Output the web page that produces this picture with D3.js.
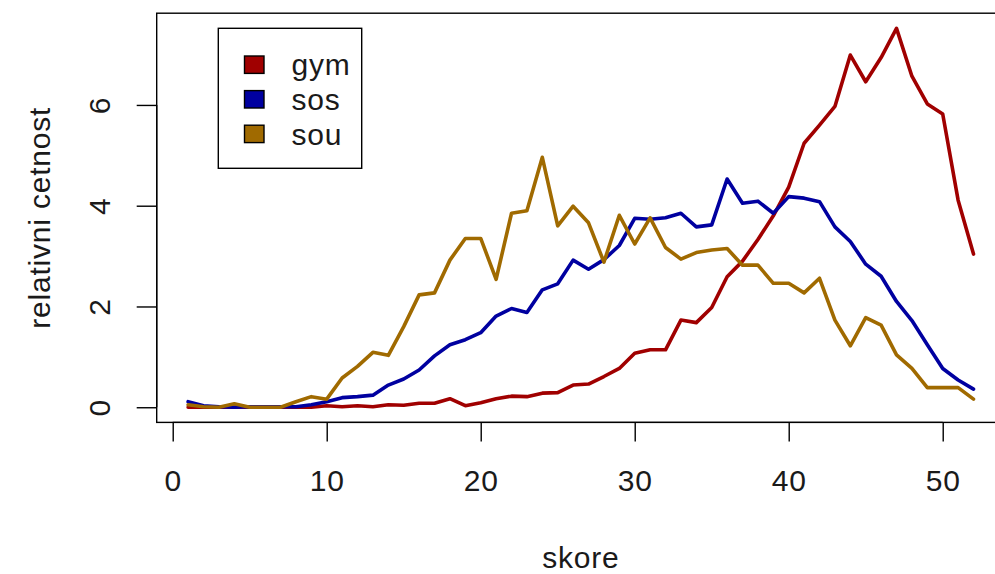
<!DOCTYPE html>
<html>
<head>
<meta charset="utf-8">
<script src="https://cdn.jsdelivr.net/npm/d3@7"></script>
<style>
  body { margin: 0; background: #fff; }
  svg { display: block; font-family: "Liberation Sans", Arial, sans-serif; }
  text { letter-spacing: 0.8px; }
</style>
</head>
<body>
<svg id="chart"></svg>
<script>
// skore 1..52
const skore = d3.range(1, 53);
const gym = [0, 0, 0, 0, 0, 0, 0, 0, 0, 0.03, 0.01, 0.03, 0.01, 0.05, 0.04, 0.08, 0.08, 0.17, 0.03, 0.09,
  0.17, 0.22, 0.21, 0.28, 0.29, 0.44, 0.46, 0.61, 0.77, 1.07, 1.14, 1.14, 1.73, 1.68, 1.98, 2.59, 2.9, 3.33,
  3.8, 4.37, 5.24, 5.6, 5.97, 6.99, 6.46, 6.94, 7.52, 6.57, 6.02, 5.82, 4.11, 3.04];
const sos = [0.11, 0.03, 0.01, 0, 0.01, 0.01, 0.01, 0.01, 0.05, 0.11, 0.19, 0.21, 0.24, 0.44, 0.56, 0.74, 1.02,
  1.24, 1.34, 1.48, 1.81, 1.96, 1.88, 2.33, 2.45, 2.92, 2.74, 2.93, 3.21, 3.75, 3.73, 3.76, 3.85, 3.58, 3.62,
  4.53, 4.05, 4.09, 3.85, 4.18, 4.15, 4.08, 3.58, 3.29, 2.84, 2.6, 2.1, 1.72, 1.24, 0.77, 0.54, 0.36];
const sou = [0.05, 0.01, 0, 0.07, 0, 0, 0, 0.11, 0.21, 0.16, 0.58, 0.81, 1.09, 1.03, 1.6, 2.23, 2.27, 2.92,
  3.35, 3.35, 2.54, 3.85, 3.9, 4.96, 3.6, 3.99, 3.66, 2.88, 3.81, 3.24, 3.76, 3.17, 2.94, 3.07, 3.12, 3.15,
  2.82, 2.82, 2.46, 2.46, 2.27, 2.56, 1.73, 1.22, 1.78, 1.63, 1.04, 0.77, 0.39, 0.39, 0.39, 0.16];
const seriesNames = ["gym", "sos", "sou"];
const seriesColors = ["#a00000", "#0000a0", "#a06a00"];
const xTicks = [0, 10, 20, 30, 40, 50];
const yTicks = [0, 2, 4, 6];

const width = 995;
const height = 574;
const fontSize = 30;

const svg = d3.select("#chart")
    .attr("width", width)
    .attr("height", height)
    .attr("viewBox", [0, 0, width, height]);

// R style: limits padded by 4%
const xmin = 1, xmax = 52, ymax = d3.max([gym, sos, sou].flat());
const xpad = (xmax - xmin) * 0.04, ypad = ymax * 0.04;
const x = d3.scaleLinear()
    .domain([xmin - xpad, xmax + xpad])
    .range([156.7, 156.7 + (xmax - xmin + 2 * xpad) * 15.4]);
const y = d3.scaleLinear()
    .domain([-ypad, ymax + ypad])
    .range([422.4, 13.2]);

const [bx0, bx1] = x.range();
const [by1, by0] = y.range();

// series lines
const line = d3.line()
    .x((d, i) => x(skore[i]))
    .y(d => y(d));

const data = [gym, sos, sou];
// draw in order gym, sos, sou (sou on top)
svg.append("g")
  .selectAll("path")
  .data(data)
  .join("path")
    .attr("fill", "none")
    .attr("stroke", (d, i) => seriesColors[i])
    .attr("stroke-width", 3.6)
    .attr("stroke-linejoin", "round")
    .attr("stroke-linecap", "round")
    .attr("d", line);

// box
svg.append("rect")
    .attr("x", bx0)
    .attr("y", by0)
    .attr("width", bx1 - bx0)
    .attr("height", by1 - by0)
    .attr("fill", "none")
    .attr("stroke", "#000")
    .attr("stroke-width", 1.4);

// x axis
svg.append("g")
    .attr("transform", `translate(0,${by1})`)
    .call(d3.axisBottom(x).tickValues(xTicks).tickSize(19).tickSizeOuter(0).tickFormat(d3.format("d")))
    .call(g => g.select(".domain").attr("d", `M${x(0)},0H${x(50)}`).attr("stroke-width", 1.4))
    .call(g => g.selectAll(".tick line").attr("stroke-width", 1.4))
    .call(g => g.selectAll(".tick text")
        .attr("y", 68.6)
        .attr("dy", 0)
        .attr("font-size", fontSize)
        .attr("font-family", "Liberation Sans, Arial, sans-serif")
        .attr("fill", "#1a1a1a"));

// y axis
svg.append("g")
    .attr("transform", `translate(${bx0},0)`)
    .call(d3.axisLeft(y).tickValues(yTicks).tickSize(20).tickSizeOuter(0).tickFormat(d3.format("d")))
    .call(g => g.select(".domain").attr("d", `M0,${y(0)}V${y(6)}`).attr("stroke-width", 1.4))
    .call(g => g.selectAll(".tick line").attr("stroke-width", 1.4))
    .call(g => g.selectAll(".tick text")
        .attr("x", 0)
        .attr("dy", 0)
        .attr("text-anchor", "middle")
        .attr("transform", `translate(-46.7,0) rotate(-90)`)
        .attr("font-size", fontSize)
        .attr("font-family", "Liberation Sans, Arial, sans-serif")
        .attr("fill", "#1a1a1a"));

// axis titles
svg.append("text")
    .attr("x", (bx0 + bx1) / 2)
    .attr("y", 568.3)
    .attr("text-anchor", "middle")
    .attr("font-size", fontSize)
    .attr("fill", "#1a1a1a")
    .text("skore");

svg.append("text")
    .attr("transform", `translate(50,${(by0 + by1) / 2}) rotate(-90)`)
    .attr("text-anchor", "middle")
    .attr("font-size", fontSize)
    .attr("fill", "#1a1a1a")
    .text("relativni cetnost");

// legend
const legend = svg.append("g");
legend.append("rect")
    .attr("x", 218.3)
    .attr("y", 28.3)
    .attr("width", 143.4)
    .attr("height", 140)
    .attr("fill", "#fff")
    .attr("stroke", "#000")
    .attr("stroke-width", 1.4);

const row = legend.selectAll("g.row")
  .data(seriesNames)
  .join("g")
    .attr("class", "row")
    .attr("transform", (d, i) => `translate(0,${64.7 + i * 34.6})`);

row.append("rect")
    .attr("x", 244.5)
    .attr("y", -8.7)
    .attr("width", 19.5)
    .attr("height", 17.4)
    .attr("fill", (d, i) => seriesColors[i])
    .attr("stroke", "#000")
    .attr("stroke-width", 1.4);

row.append("text")
    .attr("x", 291.5)
    .attr("y", 10.6)
    .attr("font-size", fontSize)
    .attr("fill", "#1a1a1a")
    .text(d => d);
</script>
</body>
</html>
